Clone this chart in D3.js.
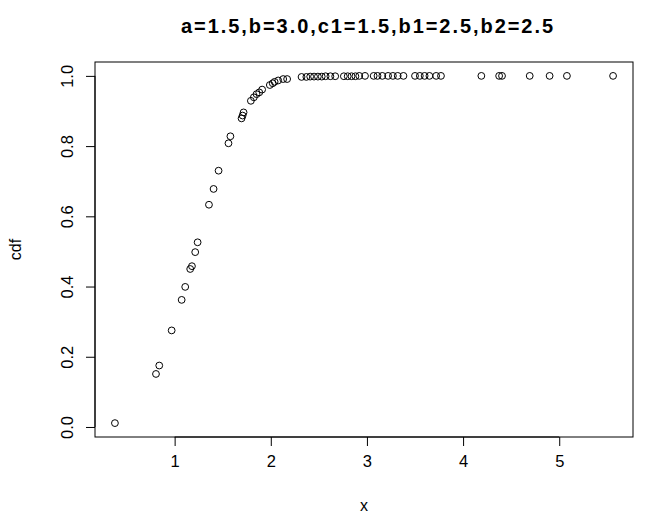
<!DOCTYPE html>
<html><head><meta charset="utf-8">
<script src="https://cdn.jsdelivr.net/npm/d3@7"></script>
<style>body{margin:0;background:#fff}</style>
</head><body>
<svg id="c" width="646" height="519"></svg>
<script>
const xs = [0.379,0.806,0.84,0.969,1.073,1.11,1.162,1.18,1.214,1.239,1.357,1.405,1.457,1.56,1.58,1.696,1.707,1.717,1.793,1.824,1.852,1.88,1.91,1.99,2.02,2.04,2.077,2.129,2.17,
  2.32,2.37,2.41,2.45,2.49,2.53,2.57,2.62,2.67,2.76,2.80,2.84,2.88,2.92,2.98,3.07,3.11,3.16,3.22,3.27,3.32,3.38,3.50,3.55,3.60,3.65,3.72,3.77,4.19,4.375,4.405,4.693,4.90,5.08,5.56];
const ys = [0.011,0.151,0.175,0.275,0.362,0.399,0.450,0.458,0.498,0.526,0.633,0.678,0.730,0.808,0.828,0.879,0.887,0.896,0.929,0.939,0.948,0.953,0.961,0.974,0.979,0.983,0.987,0.991,0.991,
  0.997,0.997,0.998,0.998,0.998,0.998,0.999,0.999,0.999,0.999,0.999,0.999,0.999,1.0,1.0,1.0,1.0,1.0,1.0,1.0,1.0,1.0,1.0,1.0,1.0,1.0,1.0,1.0,1.0,1.0,1.0,1.0,1.0,1.0,1.0];
const xTicks = [1,2,3,4,5];
const yTicks = [0.0,0.2,0.4,0.6,0.8,1.0];
const title = "a=1.5,b=3.0,c1=1.5,b1=2.5,b2=2.5";
const xLabel = "x", yLabel = "cdf";

const svg = d3.select("#c");
const L = 95, R = 633, T = 62, B = 437;
const ext = e => { const r = e[1]-e[0]; return [e[0]-0.04*r, e[1]+0.04*r]; };
const x = d3.scaleLinear().domain(ext(d3.extent(xs))).range([L, R]);
const y = d3.scaleLinear().domain(ext(d3.extent(ys))).range([B, T]);
const font = "'Liberation Sans', Arial, sans-serif";

svg.append("rect").attr("x", L).attr("y", T).attr("width", R-L).attr("height", B-T)
  .attr("fill", "none").attr("stroke", "#000").attr("stroke-width", 1);

const xa = svg.append("g").attr("transform", `translate(0,${B})`)
  .call(d3.axisBottom(x).tickValues(xTicks).tickFormat(d3.format("d")).tickSize(9).tickPadding(9));
xa.select(".domain").attr("d", `M${x(xTicks[0])},0H${x(xTicks[xTicks.length-1])}`);
xa.selectAll("text").attr("font-family", font).attr("font-size", 16.5).attr("fill", "#000");

const ya = svg.append("g").attr("transform", `translate(${L},0)`)
  .call(d3.axisLeft(y).tickValues(yTicks).tickFormat(d3.format(".1f")).tickSize(9));
ya.select(".domain").attr("d", `M0,${y(yTicks[0])}V${y(yTicks[yTicks.length-1])}`);
ya.selectAll("text").attr("font-family", font).attr("font-size", 16.5).attr("fill", "#000")
  .attr("x", null).attr("dy", null).attr("text-anchor", "middle")
  .attr("transform", "translate(-28,0) rotate(-90)").attr("dy", "0.35em");

svg.append("g").selectAll("circle").data(xs).join("circle")
  .attr("cx", (d,i) => x(d)).attr("cy", (d,i) => y(ys[i])).attr("r", 3.4)
  .attr("fill", "none").attr("stroke", "#000").attr("stroke-width", 1);

svg.append("text").attr("x", 367).attr("y", 33).attr("text-anchor", "middle")
  .attr("font-family", font).attr("font-weight", "bold").attr("font-size", 20)
  .attr("textLength", 372).attr("lengthAdjust", "spacing").text(title);
svg.append("text").attr("x", (L+R)/2).attr("y", 511).attr("text-anchor", "middle")
  .attr("font-family", font).attr("font-size", 16).text(xLabel);
svg.append("text").attr("transform", `translate(21,${(T+B)/2}) rotate(-90)`).attr("text-anchor", "middle")
  .attr("font-family", font).attr("font-size", 16).text(yLabel);
</script>
</body></html>
